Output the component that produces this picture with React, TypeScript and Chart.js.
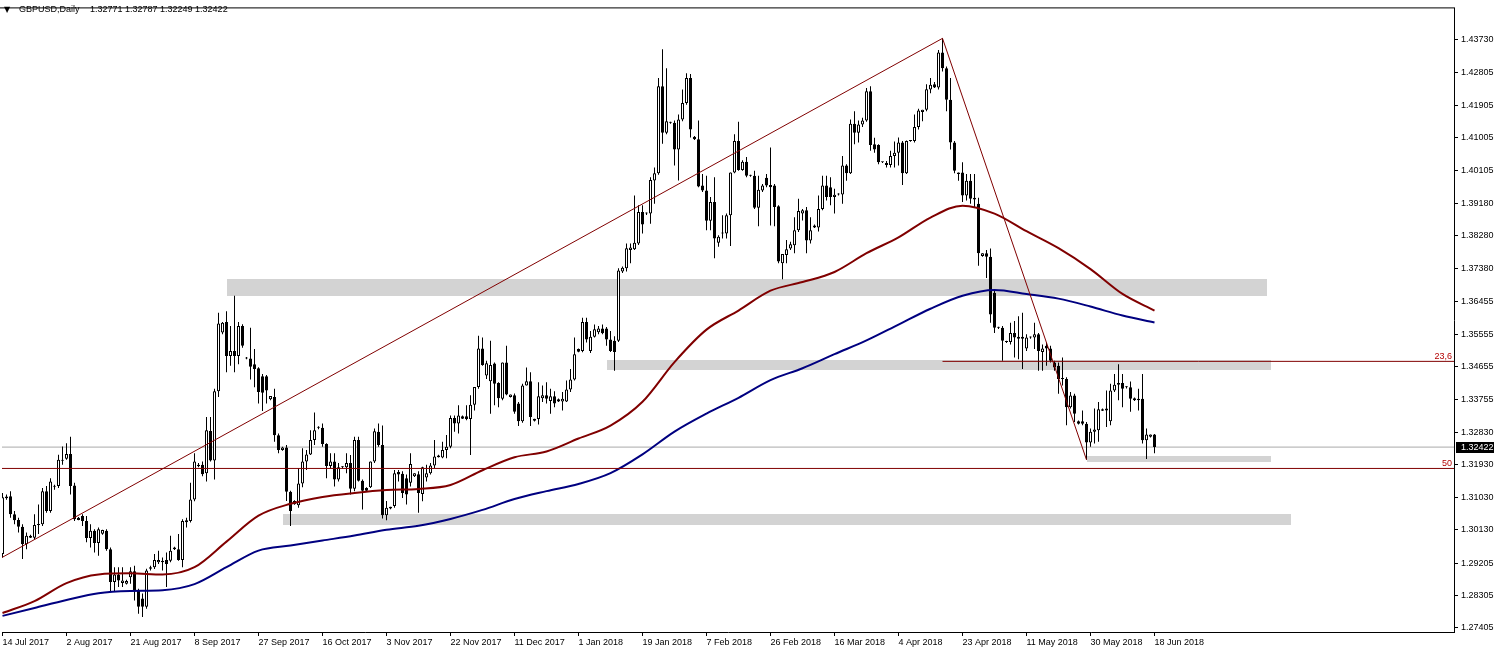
import React, { useEffect, useRef } from 'react';
import { Chart, registerables } from 'chart.js';

Chart.register(...registerables);

const TITLE_SYMBOL = 'GBPUSD,Daily';
const TITLE_VALUES = '1.32771 1.32787 1.32249 1.32422';

const xTickBars = [0, 16, 32, 48, 64, 80, 96, 112, 128, 144, 160, 176, 192, 208, 224, 240, 256, 272, 288];
const xTickLabels = ['14 Jul 2017', '2 Aug 2017', '21 Aug 2017', '8 Sep 2017', '27 Sep 2017', '16 Oct 2017', '3 Nov 2017', '22 Nov 2017', '11 Dec 2017', '1 Jan 2018', '19 Jan 2018', '7 Feb 2018', '26 Feb 2018', '16 Mar 2018', '4 Apr 2018', '23 Apr 2018', '11 May 2018', '30 May 2018', '18 Jun 2018'];
const yTickValues = [1.27405, 1.28305, 1.29205, 1.3013, 1.3103, 1.3193, 1.3283, 1.33755, 1.34655, 1.35555, 1.36455, 1.3738, 1.3828, 1.3918, 1.40105, 1.41005, 1.41905, 1.42805, 1.4373];

const opens = [
  1.2946, 1.3100, 1.3106, 1.3056, 1.3040, 1.3021, 1.2973, 1.2996, 1.2991, 1.3026,
  1.3028, 1.3120, 1.3065, 1.3134, 1.3134, 1.3204, 1.3210, 1.3223, 1.3136, 1.3046,
  1.3051, 1.3037, 1.2990, 1.3010, 1.2976, 1.3002, 1.3010, 1.2959, 1.2868, 1.2889,
  1.2865, 1.2863, 1.2881, 1.2898, 1.2845, 1.2822, 1.2799, 1.2905, 1.2909, 1.2923,
  1.2923, 1.2929, 1.2927, 1.2964, 1.2959, 1.2929, 1.3034, 1.3037, 1.3097, 1.3193,
  1.3193, 1.3170, 1.3287, 1.3205, 1.3397, 1.3560, 1.3589, 1.3495, 1.3509, 1.3495,
  1.3578, 1.3490, 1.3488, 1.3472, 1.3461, 1.3439, 1.3439, 1.3375, 1.3381, 1.3275,
  1.3234, 1.3241, 1.3118, 1.3093, 1.3081, 1.3141, 1.3202, 1.3222, 1.3262, 1.3296,
  1.3296, 1.3251, 1.3190, 1.3202, 1.3152, 1.3186, 1.3186, 1.3198, 1.3127, 1.3262,
  1.3149, 1.3129, 1.3131, 1.3202, 1.3285, 1.3248, 1.3053, 1.3072, 1.3079, 1.3173,
  1.3168, 1.3156, 1.3143, 1.3161, 1.3167, 1.3112, 1.3158, 1.3170, 1.3191, 1.3219,
  1.3213, 1.3234, 1.3243, 1.3323, 1.3308, 1.3328, 1.3328, 1.3320, 1.3360, 1.3409,
  1.3516, 1.3441, 1.3425, 1.3474, 1.3420, 1.3376, 1.3477, 1.3381, 1.3386, 1.3363,
  1.3314, 1.3413, 1.3425, 1.3315, 1.3320, 1.3378, 1.3386, 1.3370, 1.3383, 1.3375,
  1.3369, 1.3369, 1.3402, 1.3430, 1.3514, 1.3509, 1.3589, 1.3509, 1.3548, 1.3561,
  1.3571, 1.3571, 1.3541, 1.3537, 1.3537, 1.3729, 1.3738, 1.3789, 1.3791, 1.3807,
  1.3894, 1.3890, 1.3890, 1.3982, 1.4002, 1.4243, 1.4114, 1.4142, 1.4142, 1.4068,
  1.4151, 1.4197, 1.4266, 1.4103, 1.4096, 1.3968, 1.3954, 1.3870, 1.3922, 1.3809,
  1.3835, 1.3835, 1.3885, 1.4004, 1.4091, 1.4011, 1.4034, 1.3995, 1.3995, 1.3906,
  1.3954, 1.3989, 1.3969, 1.3968, 1.3910, 1.3752, 1.3775, 1.3793, 1.3802, 1.3844,
  1.3890, 1.3899, 1.3815, 1.3857, 1.3851, 1.3903, 1.3968, 1.3963, 1.3936, 1.3943,
  1.3943, 1.4023, 1.4002, 1.4139, 1.4114, 1.4137, 1.4148, 1.4229, 1.4082, 1.4080,
  1.4032, 1.4025, 1.4025, 1.4050, 1.4059, 1.4087, 1.4002, 1.4091, 1.4091, 1.4130,
  1.4172, 1.4178, 1.4234, 1.4249, 1.4240, 1.4337, 1.4293, 1.4206, 1.4087, 1.4004,
  1.4004, 1.3940, 1.3981, 1.3929, 1.3917, 1.3772, 1.3780, 1.3770, 1.3670, 1.3573,
  1.3573, 1.3534, 1.3534, 1.3559, 1.3548, 1.3548, 1.3516, 1.3546, 1.3546, 1.3555,
  1.3506, 1.3523, 1.3516, 1.3477, 1.3468, 1.3431, 1.3431, 1.3353, 1.3385, 1.3314,
  1.3314, 1.3307, 1.3255, 1.3285, 1.3289, 1.3347, 1.3349, 1.3314, 1.3399, 1.3415,
  1.3420, 1.3408, 1.3408, 1.3378, 1.3376, 1.3376, 1.3261, 1.3271, 1.32771,
];
const highs = [
  1.3115, 1.3111, 1.3120, 1.3065, 1.3046, 1.3028, 1.3005, 1.2999, 1.3056, 1.3083,
  1.3129, 1.3134, 1.3156, 1.3138, 1.3221, 1.3244, 1.3253, 1.3271, 1.3143, 1.3048,
  1.3056, 1.3051, 1.3028, 1.3014, 1.3019, 1.3013, 1.3014, 1.2964, 1.2909, 1.2909,
  1.2909, 1.2874, 1.2909, 1.2913, 1.2849, 1.2836, 1.2905, 1.2913, 1.2946, 1.2955,
  1.2936, 1.2950, 1.2996, 1.2966, 1.3001, 1.3042, 1.3046, 1.3143, 1.3225, 1.3198,
  1.3202, 1.3326, 1.3326, 1.3404, 1.3615, 1.3589, 1.3619, 1.3578, 1.3662, 1.3589,
  1.3583, 1.3492, 1.3573, 1.3514, 1.3464, 1.3445, 1.3442, 1.3384, 1.3404, 1.3280,
  1.3243, 1.3248, 1.3121, 1.3095, 1.3184, 1.3239, 1.3234, 1.3289, 1.3338, 1.3300,
  1.3308, 1.3253, 1.3225, 1.3225, 1.3198, 1.3189, 1.3225, 1.3220, 1.3271, 1.3271,
  1.3152, 1.3131, 1.3202, 1.3294, 1.3308, 1.3302, 1.3093, 1.3077, 1.3179, 1.3179,
  1.3175, 1.3166, 1.3225, 1.3170, 1.3175, 1.3188, 1.3193, 1.3198, 1.3262, 1.3221,
  1.3257, 1.3276, 1.3330, 1.3330, 1.3358, 1.3330, 1.3358, 1.3386, 1.3409, 1.3551,
  1.3546, 1.3482, 1.3537, 1.3477, 1.3422, 1.3477, 1.3523, 1.3388, 1.3391, 1.3367,
  1.3418, 1.3463, 1.3450, 1.3321, 1.3422, 1.3413, 1.3422, 1.3404, 1.3397, 1.3377,
  1.3395, 1.3427, 1.3459, 1.3546, 1.3516, 1.3601, 1.3601, 1.3564, 1.3582, 1.3578,
  1.3582, 1.3575, 1.3564, 1.3550, 1.3738, 1.3743, 1.3807, 1.3807, 1.3940, 1.3913,
  1.3913, 1.3893, 1.3991, 1.4018, 1.4266, 1.4346, 1.4293, 1.4145, 1.4148, 1.4165,
  1.4234, 1.4279, 1.4277, 1.4105, 1.4148, 1.4000, 1.3995, 1.3936, 1.3991, 1.3830,
  1.3885, 1.3890, 1.4004, 1.4110, 1.4145, 1.4038, 1.4047, 1.3998, 1.4009, 1.3995,
  1.3972, 1.4000, 1.4073, 1.3972, 1.3913, 1.3778, 1.3817, 1.3812, 1.3880, 1.3931,
  1.3903, 1.3908, 1.3880, 1.3860, 1.3940, 1.3995, 1.3995, 1.3991, 1.3959, 1.3946,
  1.4050, 1.4027, 1.4151, 1.4174, 1.4148, 1.4156, 1.4238, 1.4243, 1.4100, 1.4082,
  1.4034, 1.4036, 1.4064, 1.4090, 1.4101, 1.4091, 1.4093, 1.4093, 1.4165, 1.4181,
  1.4178, 1.4249, 1.4266, 1.4255, 1.4344, 1.4376, 1.4298, 1.4266, 1.4091, 1.4004,
  1.4032, 1.4000, 1.4000, 1.4000, 1.3934, 1.3780, 1.3789, 1.3793, 1.3679, 1.3576,
  1.3578, 1.3537, 1.3587, 1.3592, 1.3605, 1.3615, 1.3555, 1.3549, 1.3587, 1.3559,
  1.3527, 1.3532, 1.3523, 1.3482, 1.3477, 1.3491, 1.3436, 1.3395, 1.3390, 1.3316,
  1.3344, 1.3312, 1.3294, 1.3349, 1.3367, 1.3349, 1.3399, 1.3418, 1.3445, 1.3472,
  1.3445, 1.3411, 1.3424, 1.3380, 1.3404, 1.3445, 1.3294, 1.3277, 1.32787,
];
const lows = [
  1.2936, 1.3096, 1.3046, 1.3028, 1.3005, 1.2932, 1.2959, 1.2990, 1.2987, 1.3001,
  1.3023, 1.3060, 1.3060, 1.3124, 1.3129, 1.3193, 1.3207, 1.3111, 1.3037, 1.3039,
  1.3023, 1.2978, 1.2964, 1.2950, 1.2941, 1.2999, 1.2955, 1.2840, 1.2840, 1.2854,
  1.2854, 1.2861, 1.2863, 1.2817, 1.2780, 1.2771, 1.2794, 1.2900, 1.2904, 1.2918,
  1.2900, 1.2854, 1.2923, 1.2957, 1.2927, 1.2909, 1.3019, 1.3033, 1.3092, 1.3186,
  1.3161, 1.3147, 1.3202, 1.3152, 1.3381, 1.3555, 1.3450, 1.3468, 1.3450, 1.3472,
  1.3518, 1.3486, 1.3430, 1.3408, 1.3363, 1.3342, 1.3363, 1.3372, 1.3257, 1.3225,
  1.3232, 1.3093, 1.3023, 1.3082, 1.3074, 1.3131, 1.3179, 1.3220, 1.3248, 1.3292,
  1.3243, 1.3156, 1.3184, 1.3133, 1.3147, 1.3183, 1.3170, 1.3111, 1.3120, 1.3147,
  1.3069, 1.3120, 1.3129, 1.3198, 1.3243, 1.3044, 1.3039, 1.3070, 1.3074, 1.3147,
  1.3101, 1.3083, 1.3133, 1.3159, 1.3060, 1.3092, 1.3147, 1.3166, 1.3184, 1.3213,
  1.3211, 1.3211, 1.3239, 1.3285, 1.3280, 1.3320, 1.3317, 1.3220, 1.3344, 1.3404,
  1.3468, 1.3431, 1.3335, 1.3358, 1.3353, 1.3372, 1.3386, 1.3380, 1.3335, 1.3301,
  1.3310, 1.3413, 1.3301, 1.3313, 1.3305, 1.3367, 1.3363, 1.3335, 1.3353, 1.3367,
  1.3344, 1.3367, 1.3395, 1.3427, 1.3505, 1.3505, 1.3532, 1.3503, 1.3546, 1.3555,
  1.3555, 1.3523, 1.3506, 1.3454, 1.3534, 1.3725, 1.3729, 1.3752, 1.3789, 1.3803,
  1.3835, 1.3886, 1.3862, 1.3917, 1.3998, 1.4084, 1.4110, 1.4139, 1.4023, 1.3982,
  1.4146, 1.4192, 1.4101, 1.4094, 1.3963, 1.3950, 1.3844, 1.3844, 1.3766, 1.3798,
  1.3821, 1.3821, 1.3800, 1.4002, 1.4009, 1.4009, 1.3991, 1.3992, 1.3903, 1.3855,
  1.3950, 1.3963, 1.3857, 1.3855, 1.3752, 1.3708, 1.3752, 1.3789, 1.3780, 1.3839,
  1.3871, 1.3780, 1.3807, 1.3850, 1.3840, 1.3899, 1.3926, 1.3913, 1.3890, 1.3940,
  1.3917, 1.3981, 1.4000, 1.4082, 1.4087, 1.4130, 1.4145, 1.4064, 1.4059, 1.4027,
  1.4030, 1.4018, 1.4018, 1.4018, 1.4023, 1.3969, 1.4000, 1.4089, 1.4087, 1.4123,
  1.4146, 1.4174, 1.4224, 1.4238, 1.4234, 1.4284, 1.4174, 1.4068, 1.4002, 1.3981,
  1.3922, 1.3926, 1.3917, 1.3908, 1.3745, 1.3770, 1.3711, 1.3587, 1.3559, 1.3570,
  1.3482, 1.3531, 1.3527, 1.3491, 1.3486, 1.3459, 1.3509, 1.3543, 1.3514, 1.3454,
  1.3454, 1.3468, 1.3477, 1.3454, 1.3390, 1.3413, 1.3303, 1.3349, 1.3312, 1.3305,
  1.3303, 1.3207, 1.3243, 1.3252, 1.3257, 1.3342, 1.3298, 1.3303, 1.3395, 1.3372,
  1.3353, 1.3405, 1.3340, 1.3370, 1.3344, 1.3252, 1.3209, 1.3269, 1.32249,
];
const closes = [
  1.3103, 1.3105, 1.3056, 1.3039, 1.3021, 1.2973, 1.2996, 1.2991, 1.3026, 1.3028,
  1.3120, 1.3065, 1.3147, 1.3132, 1.3207, 1.3207, 1.3223, 1.3134, 1.3042, 1.3040,
  1.3037, 1.2990, 1.3010, 1.2976, 1.3014, 1.3012, 1.2959, 1.2868, 1.2889, 1.2872,
  1.2872, 1.2871, 1.2898, 1.2845, 1.2799, 1.2799, 1.2900, 1.2909, 1.2929, 1.2929,
  1.2927, 1.2918, 1.2955, 1.2959, 1.2929, 1.3037, 1.3039, 1.3097, 1.3202, 1.3189,
  1.3167, 1.3289, 1.3205, 1.3397, 1.3585, 1.3587, 1.3495, 1.3509, 1.3495, 1.3578,
  1.3523, 1.3488, 1.3465, 1.3459, 1.3395, 1.3393, 1.3399, 1.3384, 1.3275, 1.3234,
  1.3241, 1.3118, 1.3065, 1.3084, 1.3141, 1.3202, 1.3222, 1.3262, 1.3289, 1.3296,
  1.3251, 1.3190, 1.3202, 1.3152, 1.3186, 1.3186, 1.3198, 1.3127, 1.3262, 1.3149,
  1.3121, 1.3121, 1.3202, 1.3286, 1.3248, 1.3053, 1.3074, 1.3077, 1.3170, 1.3166,
  1.3115, 1.3111, 1.3195, 1.3170, 1.3115, 1.3186, 1.3170, 1.3191, 1.3216, 1.3214,
  1.3234, 1.3243, 1.3323, 1.3308, 1.3330, 1.3321, 1.3320, 1.3360, 1.3409, 1.3516,
  1.3470, 1.3475, 1.3470, 1.3418, 1.3378, 1.3477, 1.3388, 1.3388, 1.3340, 1.3314,
  1.3413, 1.3425, 1.3326, 1.3321, 1.3383, 1.3386, 1.3376, 1.3383, 1.3363, 1.3369,
  1.3376, 1.3402, 1.3430, 1.3500, 1.3507, 1.3589, 1.3541, 1.3548, 1.3569, 1.3571,
  1.3558, 1.3541, 1.3509, 1.3506, 1.3732, 1.3740, 1.3794, 1.3796, 1.3809, 1.3894,
  1.3860, 1.3890, 1.3983, 1.4002, 1.4243, 1.4114, 1.4146, 1.4142, 1.4068, 1.4151,
  1.4197, 1.4266, 1.4123, 1.4096, 1.3965, 1.3954, 1.3870, 1.3922, 1.3821, 1.3826,
  1.3837, 1.3885, 1.4004, 1.4091, 1.4011, 1.4034, 1.3995, 1.3995, 1.3906, 1.3956,
  1.3968, 1.3968, 1.3963, 1.3908, 1.3757, 1.3778, 1.3791, 1.3805, 1.3844, 1.3897,
  1.3899, 1.3815, 1.3844, 1.3851, 1.3903, 1.3968, 1.3936, 1.3936, 1.3942, 1.3943,
  1.4023, 1.4002, 1.4139, 1.4114, 1.4137, 1.4148, 1.4229, 1.4080, 1.4068, 1.4032,
  1.4032, 1.4030, 1.4050, 1.4059, 1.4087, 1.4002, 1.4091, 1.4091, 1.4130, 1.4176,
  1.4178, 1.4235, 1.4247, 1.4240, 1.4337, 1.4293, 1.4206, 1.4087, 1.4009, 1.4000,
  1.3940, 1.3981, 1.3931, 1.3934, 1.3780, 1.3780, 1.3770, 1.3610, 1.3573, 1.3573,
  1.3537, 1.3534, 1.3559, 1.3546, 1.3543, 1.3543, 1.3546, 1.3546, 1.3555, 1.3509,
  1.3516, 1.3516, 1.3482, 1.3463, 1.3431, 1.3431, 1.3353, 1.3385, 1.3335, 1.3307,
  1.3307, 1.3255, 1.3285, 1.3291, 1.3347, 1.3343, 1.3344, 1.3399, 1.3415, 1.3420,
  1.3404, 1.3408, 1.3376, 1.3372, 1.3372, 1.3261, 1.3277, 1.3277, 1.32422,
];

// moving averages every 8 bars
const maBars = [0, 8, 16, 24, 32, 40, 48, 56, 64, 72, 80, 88, 96, 104, 112, 120, 128, 136, 144, 152, 160, 168, 176, 184, 192, 200, 208, 216, 224, 232, 240, 248, 256, 264, 272, 280, 288];
const maMaroon = [1.2782, 1.2815, 1.2865, 1.2889, 1.2892, 1.2889, 1.2909, 1.2980, 1.3052, 1.3085, 1.3104, 1.3115, 1.3123, 1.3126, 1.3137, 1.3178, 1.3214, 1.3230, 1.3266, 1.3302, 1.3368, 1.3478, 1.3568, 1.3621, 1.3676, 1.3700, 1.3728, 1.3780, 1.3824, 1.3879, 1.3912, 1.3890, 1.3841, 1.3794, 1.3736, 1.3667, 1.3621];
const maNavy = [1.2774, 1.2796, 1.2818, 1.2837, 1.2843, 1.2845, 1.2862, 1.2909, 1.2955, 1.2969, 1.2983, 1.2997, 1.3013, 1.3024, 1.3043, 1.3068, 1.3098, 1.3120, 1.3140, 1.3170, 1.3222, 1.3285, 1.3335, 1.3379, 1.3428, 1.3461, 1.3500, 1.3538, 1.3582, 1.3626, 1.3662, 1.3678, 1.3667, 1.3654, 1.3632, 1.3607, 1.3588];

// drawing objects (time in bar index, price)
const trendUpBars = [-0.125, 235];
const trendUpPrices = [1.2936, 1.4376];
const trendDownBars = [235, 271];
const trendDownPrices = [1.4376, 1.3207];

const zoneStartBars = [56, 151, 271, 70];
const zoneEndBars = [316, 317, 317, 322];
const zoneHighs = [1.3709, 1.3485, 1.3217, 1.3057];
const zoneLows = [1.3662, 1.3457, 1.3200, 1.3027];

const fibNames = ['23,6', '50'];
const fibPrices = [1.3480, 1.3183];
const fibStartBars = [235, -0.125];

const lastPrice = 1.32422;

const X_MIN = -0.125;
const X_MAX = 362.875;
const Y_MIN = 1.27293;
const Y_MAX = 1.44591;

const FONT = "'Liberation Sans', Arial, sans-serif";
const MAROON = '#800000';
const NAVY = '#000080';

export default function App() {
  const ref = useRef<HTMLCanvasElement>(null);

  useEffect(() => {
    const canvas = ref.current;
    if (!canvas) return;
    const idx = opens.map((_, i) => i);
    const bodyColors = idx.map((i) => (closes[i] > opens[i] ? '#ffffff' : '#000000'));

    const bgPlugin = {
      id: 'bg',
      beforeDraw(chart: any) {
        const { ctx, width, height } = chart;
        ctx.save();
        ctx.fillStyle = '#ffffff';
        ctx.fillRect(0, 0, width, height);
        ctx.restore();
      },
    };

    const zonesPlugin = {
      id: 'zones',
      beforeDatasetsDraw(chart: any) {
        const { ctx, chartArea, scales } = chart;
        const xs = scales.x;
        const ys = scales.y;
        ctx.save();
        ctx.beginPath();
        ctx.rect(chartArea.left, chartArea.top, chartArea.right - chartArea.left, chartArea.bottom - chartArea.top);
        ctx.clip();
        ctx.fillStyle = '#d3d3d3';
        for (let i = 0; i < zoneStartBars.length; i++) {
          const x1 = Math.round(xs.getPixelForValue(zoneStartBars[i]));
          const x2 = Math.round(xs.getPixelForValue(zoneEndBars[i]));
          const y1 = Math.round(ys.getPixelForValue(zoneHighs[i]));
          const y2 = Math.round(ys.getPixelForValue(zoneLows[i]));
          ctx.fillRect(x1, y1, x2 - x1, y2 - y1);
        }
        ctx.restore();
      },
    };

    const overlayPlugin = {
      id: 'overlay',
      afterDraw(chart: any) {
        const { ctx, chartArea, scales } = chart;
        const ys = scales.y;
        ctx.save();
        // top frame line
        ctx.fillStyle = '#000000';
        ctx.fillRect(0, chartArea.top - 1, chartArea.right + 1, 1);
        // fib level labels
        ctx.font = `9px ${FONT}`;
        ctx.fillStyle = '#b40000';
        ctx.textAlign = 'right';
        ctx.textBaseline = 'alphabetic';
        for (let i = 0; i < fibNames.length; i++) {
          const y = ys.getPixelForValue(fibPrices[i]);
          ctx.fillText(fibNames[i], chartArea.right - 2, Math.round(y) - 2);
        }
        // price tag
        const py = ys.getPixelForValue(lastPrice);
        ctx.fillStyle = '#000000';
        ctx.fillRect(chartArea.right + 2, Math.round(py) - 5, 38, 11);
        ctx.fillStyle = '#ffffff';
        ctx.textAlign = 'left';
        ctx.textBaseline = 'middle';
        ctx.fillText(lastPrice.toFixed(5), chartArea.right + 7, Math.round(py) + 0.5);
        // title
        ctx.fillStyle = '#000000';
        ctx.textBaseline = 'alphabetic';
        ctx.font = `8px 'DejaVu Sans', sans-serif`;
        ctx.fillText('▼', 4, 12);
        ctx.font = `9px ${FONT}`;
        ctx.fillText(TITLE_SYMBOL, 19, 12);
        ctx.fillText(TITLE_VALUES, 90, 12);
        ctx.restore();
      },
    };

    const lineDs = (label: string, pts: { x: number; y: number }[], color: string, width: number, order: number, smooth = false) => ({
      type: 'line' as const,
      label,
      data: pts,
      borderColor: color,
      borderWidth: width,
      pointRadius: 0,
      fill: false,
      order,
      cubicInterpolationMode: smooth ? ('monotone' as const) : ('default' as const),
      tension: 0,
    });

    const chart = new Chart(canvas, {
      type: 'bar',
      data: {
        datasets: [
          lineDs('trend up', trendUpBars.map((b, i) => ({ x: b, y: trendUpPrices[i] })), MAROON, 1, 0),
          lineDs('trend down', trendDownBars.map((b, i) => ({ x: b, y: trendDownPrices[i] })), MAROON, 1, 0),
          ...fibPrices.map((p, i) => lineDs('fib ' + fibNames[i], [{ x: fibStartBars[i], y: p }, { x: X_MAX, y: p }], MAROON, 1, 0)),
          lineDs('MA maroon', maBars.map((b, i) => ({ x: b, y: maMaroon[i] })), MAROON, 2, 1, true),
          lineDs('MA navy', maBars.map((b, i) => ({ x: b, y: maNavy[i] })), NAVY, 2, 1, true),
          {
            type: 'bar' as const,
            label: 'bodies',
            data: idx.map((i) => ({ x: i, y: [opens[i], closes[i]] })) as any,
            backgroundColor: bodyColors,
            borderColor: '#000000',
            borderWidth: 1,
            borderSkipped: false,
            barThickness: 3,
            grouped: false,
            minBarLength: 1,
            inflateAmount: 0,
            order: 2,
          },
          {
            type: 'bar' as const,
            label: 'wicks',
            data: idx.map((i) => ({ x: i, y: [lows[i], highs[i]] })) as any,
            backgroundColor: '#000000',
            borderWidth: 0,
            barThickness: 1,
            grouped: false,
            inflateAmount: 0,
            order: 3,
          },
          lineDs('bid', [{ x: X_MIN, y: lastPrice }, { x: X_MAX, y: lastPrice }], '#a9a9a9', 1, 4),
        ] as any,
      },
      options: {
        animation: false,
        responsive: false,
        maintainAspectRatio: false,
        devicePixelRatio: 1,
        events: [],
        layout: { padding: { left: 2, top: 3, right: 0, bottom: 0 } },
        plugins: {
          legend: { display: false },
          tooltip: { enabled: false },
          title: { display: false },
        },
        scales: {
          x: {
            type: 'linear',
            min: X_MIN,
            max: X_MAX,
            offset: false,
            afterBuildTicks: (s: any) => {
              s.ticks = xTickBars.map((v) => ({ value: v }));
            },
            afterFit: (s: any) => {
              s.height = 20;
            },
            ticks: {
              autoSkip: false,
              maxRotation: 0,
              minRotation: 0,
              align: 'start',
              padding: 1,
              color: '#000000',
              font: { family: FONT, size: 9 },
              callback: (_v: any, i: number) => xTickLabels[i],
            },
            grid: { display: true, drawOnChartArea: false, drawTicks: true, tickLength: 4, color: '#000000', offset: false },
            border: { display: true, color: '#000000' },
          },
          y: {
            type: 'linear',
            position: 'right',
            min: Y_MIN,
            max: Y_MAX,
            afterBuildTicks: (s: any) => {
              s.ticks = yTickValues.map((v) => ({ value: v }));
            },
            afterFit: (s: any) => {
              s.width = 43;
            },
            ticks: {
              autoSkip: false,
              padding: 3,
              color: '#000000',
              font: { family: FONT, size: 9 },
              callback: (v: any) => Number(v).toFixed(5),
            },
            grid: { display: true, drawOnChartArea: false, drawTicks: true, tickLength: 4, color: '#000000' },
            border: { display: true, color: '#000000' },
          },
        },
      } as any,
      plugins: [bgPlugin, zonesPlugin, overlayPlugin],
    });

    return () => {
      chart.destroy();
    };
  }, []);

  return (
    <div style={{ position: 'fixed', left: 0, top: 0, width: 1497, height: 652, background: '#ffffff' }}>
      <canvas ref={ref} width={1497} height={652} style={{ display: 'block', width: 1497, height: 652 }} />
    </div>
  );
}
